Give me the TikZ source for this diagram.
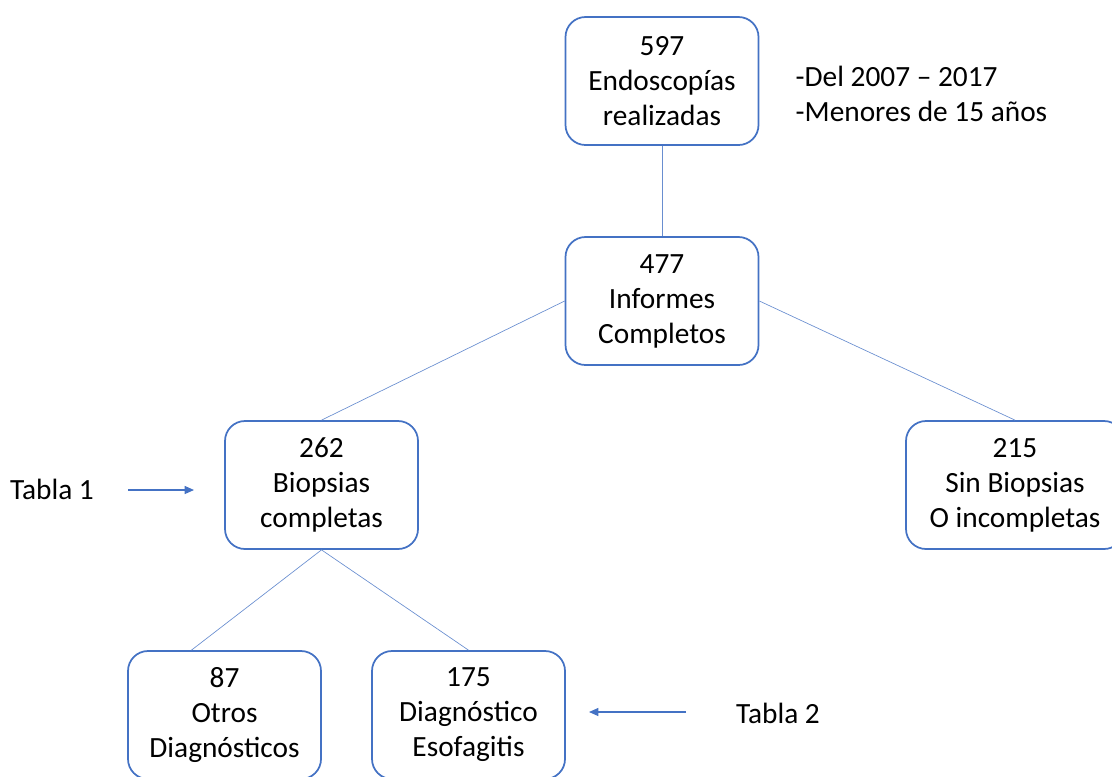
\documentclass[tikz,border=0pt]{standalone}
\usepackage{fontspec}
\setmainfont{Carlito}
\usetikzlibrary{arrows.meta}
\definecolor{boxblue}{HTML}{4472C4}
\tikzset{
    caja/.style={draw=boxblue,line width=1.3pt,rounded corners=15pt,fill=white,
        minimum width=144.75pt,minimum height=96pt,align=center,
        font=\fontsize{22}{26.25}\selectfont},
    rama/.style={draw=boxblue!80,line width=0.5pt},
    flecha/.style={draw=boxblue,line width=0.8pt,-{Triangle[length=7pt,width=6pt]}},
    nota/.style={font=\fontsize{22}{26.25}\selectfont,align=left}
}
\begin{document}
\begin{tikzpicture}[x=0.75pt,y=-0.75pt]
        \useasboundingbox (0,0) rectangle (1112,776);
        %% boxes
        \node[caja] (endo) at (662,81) {597\\Endoscopías\\realizadas};
        \node[caja] (informes) at (662,301) {477\\Informes\\Completos};
        \node[caja] (biopsias) at (321.5,485) {262\\Biopsias\\completas};
        \node[caja,minimum width=163.5pt] (sinbiop) at (1015,485) {215\\Sin Biopsias\\O incompletas};
        \node[caja] (otros) at (224.5,715) {87\\Otros\\Diagnósticos};
        \node[caja] (esof) at (468.5,715) {175\\Diagnóstico\\Esofagitis};
        %% notes
        \node[nota,anchor=west] (periodo) at (791,94) {-Del 2007 -- 2017\\-Menores de 15 años};
        \node[nota] (tabla1) at (52,489) {Tabla 1};
        \node[nota] (tabla2) at (778,713) {Tabla 2};
        %% connections
        \draw[rama] (endo.south) -- (informes.north);
        \draw[rama] (informes.west) -- (biopsias.north);
        \draw[rama] (informes.east) -- (sinbiop.north);
        \draw[rama] (biopsias.south) -- (otros.117);
        \draw[rama] (biopsias.south) -- (esof.north);
        %% arrows
        \coordinate (t1a) at (128,490);
        \coordinate (t1b) at (194,490);
        \coordinate (t2a) at (686,712);
        \coordinate (t2b) at (589,712);
        \draw[flecha] (t1a) -- (t1b);
        \draw[flecha] (t2a) -- (t2b);
    \end{tikzpicture}
\end{document}
